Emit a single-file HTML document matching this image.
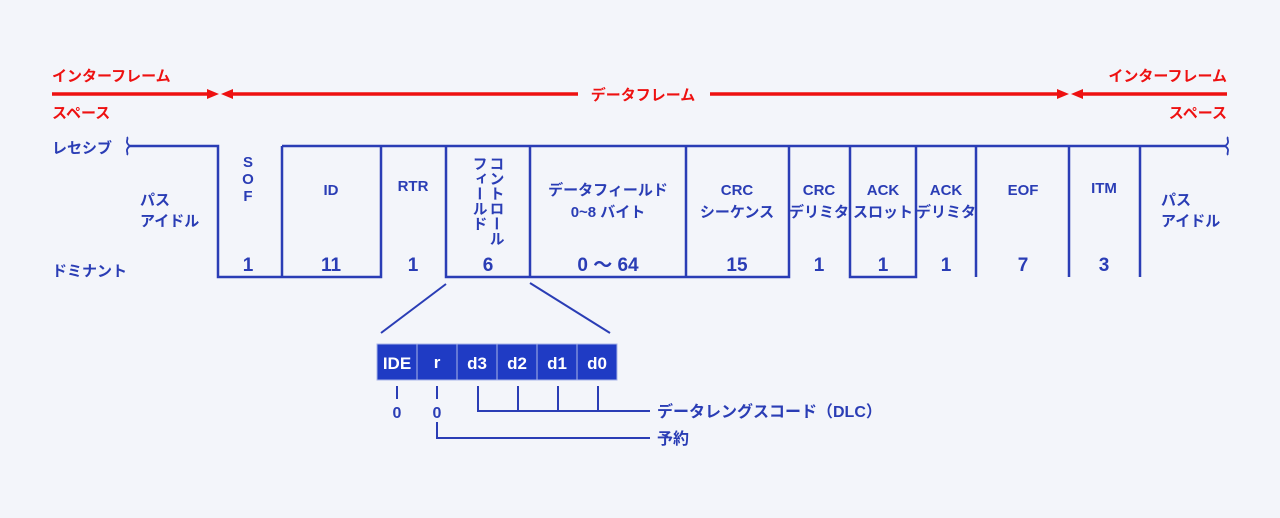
<!DOCTYPE html>
<html><head><meta charset="utf-8"><style>
html,body{margin:0;padding:0;background:#f3f5fa;}
svg{display:block}
text{font-family:"Liberation Sans","Noto Sans CJK JP",sans-serif;font-weight:bold;}
</style></head><body>
<svg width="1280" height="518" viewBox="0 0 1280 518" xmlns="http://www.w3.org/2000/svg">
<rect width="1280" height="518" fill="#f3f5fa"/>
<g fill="#ee1111" font-size="15">
<text x="52" y="81">インターフレーム</text>
<text x="52" y="118">スペース</text>
<text x="1227" y="81" text-anchor="end">インターフレーム</text>
<text x="1227" y="118" text-anchor="end">スペース</text>
<text x="643" y="100" text-anchor="middle">データフレーム</text>
</g>
<g stroke="#ee1111" stroke-width="3.5" fill="none">
<line x1="52" y1="94" x2="210" y2="94"/>
<line x1="230" y1="94" x2="578" y2="94"/>
<line x1="710" y1="94" x2="1060" y2="94"/>
<line x1="1080" y1="94" x2="1227" y2="94"/>
</g>
<g fill="#ee1111">
<polygon points="219,94 207,89 207,99"/>
<polygon points="221,94 233,89 233,99"/>
<polygon points="1069,94 1057,89 1057,99"/>
<polygon points="1071,94 1083,89 1083,99"/>
</g>
<g stroke="#2a3db5" stroke-width="2.5" fill="none">
<path d="M130,146 H218 V277 H381 V146"/>
<path d="M282,146 H1225"/>
<path d="M282,146 V277"/>
<path d="M446,146 V277 H789 V146"/>
<path d="M530,146 V277 M686,146 V277"/>
<path d="M850,146 V277 H916 V146"/>
<path d="M976,146 V277 M1069,146 V277 M1140,146 V277"/>
<path d="M130,146 c-6,-4 -1,-7 -3,-9 M130,146 c-6,4 -1,7 -3,9" stroke-width="1.8"/>
<path d="M1225,146 c6,-4 1,-7 3,-9 M1225,146 c6,4 1,7 3,9" stroke-width="1.8"/>
<line x1="446" y1="284" x2="381" y2="333" stroke-width="2"/>
<line x1="530" y1="283" x2="610" y2="333" stroke-width="2"/>
</g>
<g fill="#2a3db5" font-size="15">
<text x="52" y="153">レセシブ</text>
<text x="52" y="276">ドミナント</text>
<text x="140" y="205">パス</text>
<text x="140" y="226">アイドル</text>
<text x="1161" y="205">パス</text>
<text x="1161" y="226">アイドル</text>
<g text-anchor="middle" font-size="15">
<text x="248" y="167">S</text><text x="248" y="184">O</text><text x="248" y="201">F</text>
<text x="331" y="195">ID</text>
<text x="413" y="191">RTR</text>
<text x="608" y="195">データフィールド</text>
<text x="608" y="217">0~8 バイト</text>
<text x="737" y="195">CRC</text>
<text x="737" y="217">シーケンス</text>
<text x="819" y="195">CRC</text>
<text x="819" y="217">デリミタ</text>
<text x="883" y="195">ACK</text>
<text x="883" y="217">スロット</text>
<text x="946" y="195">ACK</text>
<text x="946" y="217">デリミタ</text>
<text x="1023" y="195">EOF</text>
<text x="1104" y="193">ITM</text>
</g>
<text font-size="15" x="496" y="156" style="writing-mode:vertical-rl">コントロール</text>
<text font-size="15" x="479" y="156" style="writing-mode:vertical-rl">フィールド</text>
<g text-anchor="middle" font-size="19">
<text x="248" y="271">1</text><text x="331" y="271">11</text><text x="413" y="271">1</text>
<text x="488" y="271">6</text><text x="608" y="271">0 ～ 64</text><text x="737" y="271">15</text>
<text x="819" y="271">1</text><text x="883" y="271">1</text><text x="946" y="271">1</text>
<text x="1023" y="271">7</text><text x="1104" y="271">3</text>
</g>
</g>
<g fill="#1f3bc4" stroke="#aab5e8" stroke-width="1">
<rect x="377" y="344" width="40" height="36"/><rect x="417" y="344" width="40" height="36"/>
<rect x="457" y="344" width="40" height="36"/><rect x="497" y="344" width="40" height="36"/>
<rect x="537" y="344" width="40" height="36"/><rect x="577" y="344" width="40" height="36"/>
</g>
<g fill="#fff" font-size="17" text-anchor="middle">
<text x="397" y="369">IDE</text><text x="437" y="368">r</text>
<text x="477" y="369">d3</text><text x="517" y="369">d2</text>
<text x="557" y="369">d1</text><text x="597" y="369">d0</text>
</g>
<g stroke="#2a3db5" stroke-width="2" fill="none">
<path d="M397,386 V399 M437,386 V399"/>
<path d="M478,386 V411 H650 M518,386 V411 M558,386 V411 M598,386 V411"/>
<path d="M437,422 V438 H650"/>
</g>
<g fill="#2a3db5">
<text x="397" y="418" font-size="16" text-anchor="middle" font-weight="normal">0</text>
<text x="437" y="418" font-size="16" text-anchor="middle" font-weight="normal">0</text>
<text x="657" y="417" font-size="16">データレングスコード（DLC）</text>
<text x="657" y="444" font-size="16">予約</text>
</g>
</svg>
</body></html>
